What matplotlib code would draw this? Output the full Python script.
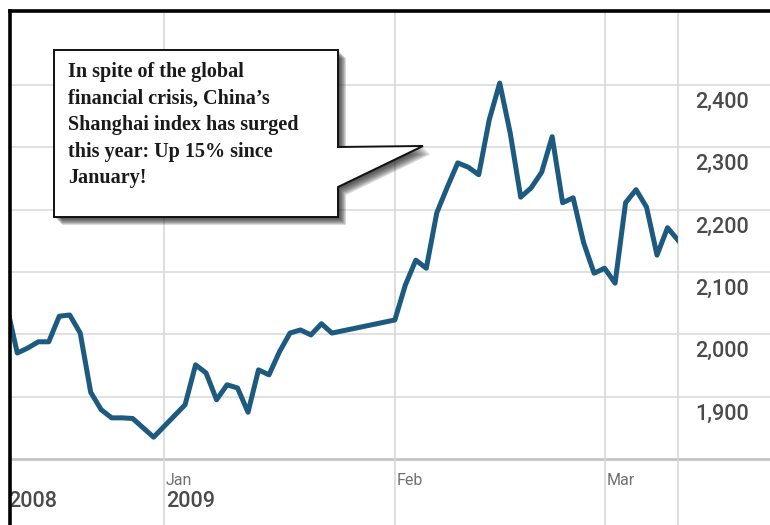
import numpy as np
import matplotlib
matplotlib.use('Agg')
import matplotlib.pyplot as plt
from matplotlib.patches import Polygon
from matplotlib.lines import Line2D

# Shanghai index (weekday-spaced axis, holidays skipped)
dec_dates = ['2008-12-11', '2008-12-12', '2008-12-15', '2008-12-16', '2008-12-17',
             '2008-12-18', '2008-12-19', '2008-12-22', '2008-12-23', '2008-12-24',
             '2008-12-25', '2008-12-26', '2008-12-29', '2008-12-30', '2008-12-31']
dec_vals = [2045, 1970, 1978, 1988, 1988, 2029, 2031, 2002, 1907, 1879,
            1866, 1866, 1865, 1850, 1835]
jan_dates = ['2009-01-05', '2009-01-06', '2009-01-07', '2009-01-08', '2009-01-09',
             '2009-01-12', '2009-01-13', '2009-01-14', '2009-01-15', '2009-01-16',
             '2009-01-19', '2009-01-20', '2009-01-21', '2009-01-22', '2009-01-23']
jan_vals = [1887, 1951, 1938, 1895, 1919, 1914, 1875, 1943, 1935, 1972,
            2002, 2007, 1999, 2017, 2002]
feb_dates = ['2009-02-02', '2009-02-03', '2009-02-04', '2009-02-05', '2009-02-06',
             '2009-02-09', '2009-02-10', '2009-02-11', '2009-02-12', '2009-02-13',
             '2009-02-16', '2009-02-17', '2009-02-18', '2009-02-19', '2009-02-20',
             '2009-02-23', '2009-02-24', '2009-02-25', '2009-02-26', '2009-02-27']
feb_vals = [2023, 2079, 2119, 2106, 2195, 2236, 2275, 2268, 2256, 2344,
            2403, 2323, 2220, 2235, 2260, 2317, 2211, 2219, 2147, 2098]
mar_dates = ['2009-03-02', '2009-03-03', '2009-03-04', '2009-03-05', '2009-03-06',
             '2009-03-09', '2009-03-10', '2009-03-11']
mar_vals = [2106, 2082, 2211, 2232, 2204, 2127, 2171, 2151]

month_labels = ['Jan', 'Feb', 'Mar']
month_starts = ['2009-01-01', '2009-02-02', '2009-03-02']
y_ticks = [1900, 2000, 2100, 2200, 2300, 2400]
note_lines = ['In spite of the global',
              'financial crisis, China\u2019s',
              'Shanghai index has surged',
              'this year: Up 15% since',
              'January!']

dates = np.array(dec_dates + jan_dates + feb_dates + mar_dates, dtype='datetime64[D]')
vals = np.array(dec_vals + jan_vals + feb_vals + mar_vals)
base = np.datetime64('2009-01-01')
xs = np.busday_count(base, dates)
month_x = np.busday_count(base, np.array(month_starts, dtype='datetime64[D]'))

W, H = 770, 525
fig = plt.figure(figsize=(7.7, 5.25), dpi=100)
ax = fig.add_axes([11 / W, (H - 459) / H, (678 - 11) / W, (459 - 12) / H])
ax.set_xlim(-14.6, 49.0)
ax.set_ylim(1800, 2517)
ax.axis('off')

sans = ['Roboto', 'DejaVu Sans']
ytrans = ax.get_yaxis_transform()
xtrans = ax.get_xaxis_transform()
ext = (W - 11) / (678 - 11)

# horizontal grid, running out under the labels
for v in y_ticks:
    ax.plot([0, ext], [v, v], transform=ytrans, color='#dedede', lw=1.3,
            clip_on=False, zorder=1)
    ax.text(1.066, v - 28, f'{v:,}', transform=ytrans, ha='center', va='center',
            fontsize=15.5, color='#4a4a4a', family=sans, fontweight='medium')
ax.plot([0, ext], [1800, 1800], transform=ytrans, color='#c4c4c4', lw=2,
        clip_on=False, zorder=1)

# vertical grid
below = -(H - 459) / (459 - 12)
for mx, lab in zip(month_x, month_labels):
    ax.plot([mx, mx], [below, 1], transform=xtrans, color='#d8d8d8', lw=1.2,
            clip_on=False, zorder=1)
    ax.text(mx + 0.15, -0.047, lab, transform=xtrans, ha='left', va='center',
            fontsize=11.5, color='#707070', family=sans)
ax.plot([1, 1], [below, 1], transform=ax.transAxes, color='#d8d8d8', lw=1.2,
        clip_on=False, zorder=1)

ax.text(-0.004, -0.096, '2008', transform=ax.transAxes, ha='left', va='center',
        fontsize=15.5, color='#4a4a4a', family=sans, fontweight='medium')
ax.text(month_x[0] + 0.15, -0.096, '2009', transform=xtrans, ha='left', va='center',
        fontsize=15.5, color='#4a4a4a', family=sans, fontweight='medium')

ax.plot(xs, vals, color='#1c5a80', lw=3.6, solid_joinstyle='round', zorder=3)

# outer black frame (top and left)
fig.add_artist(Line2D([10 / W, 1.0], [1 - 10.8 / H, 1 - 10.8 / H], transform=fig.transFigure,
                      color='black', lw=2.6, zorder=10))
fig.add_artist(Line2D([10 / W, 10 / W], [0, 1 - 10.8 / H], transform=fig.transFigure,
                      color='black', lw=2.6, zorder=10))

# callout bubble
pts = [(54, 50), (338, 50), (338, 147), (423, 146), (338, 187), (338, 217), (54, 217)]


def to_fig(p, dx=0, dy=0):
    return [((x + dx) / W, 1 - (y + dy) / H) for x, y in p]


for k in range(8, 0, -1):
    fig.add_artist(Polygon(to_fig(pts, k, k), closed=True, transform=fig.transFigure,
                           facecolor='#222222', edgecolor='none', alpha=0.17, zorder=5))
fig.add_artist(Polygon(to_fig(pts), closed=True, transform=fig.transFigure,
                       facecolor='white', edgecolor='#111111', lw=1.4, zorder=6))
for i, line in enumerate(note_lines):
    fig.text(68 / W, 1 - (72 + i * 26.6) / H, line, ha='left', va='center',
             fontsize=14.5, fontweight='bold', family=['Liberation Serif', 'DejaVu Serif'],
             color='#1a1a1a', zorder=7)

fig.savefig('out.png', dpi=100)
